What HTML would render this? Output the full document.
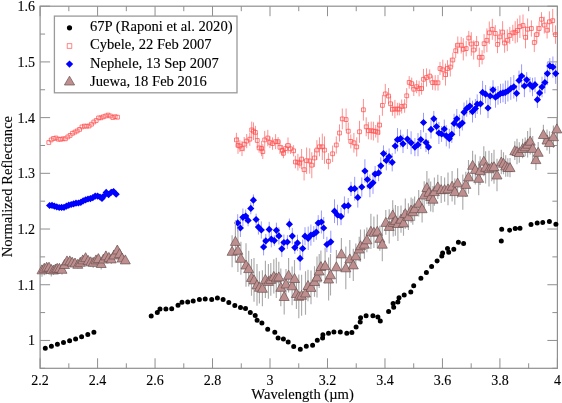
<!DOCTYPE html>
<html><head><meta charset="utf-8"><style>
html,body{margin:0;padding:0;background:#fff;width:562px;height:403px;overflow:hidden}
svg{display:block;will-change:transform}
</style></head><body>
<svg width="562" height="403" viewBox="0 0 562 403">
<rect x="40.1" y="6.2" width="517.3" height="362.1" fill="none" stroke="#8f8f8f" stroke-width="1.2"/><path d="M40.1 368.3v-10M40.1 6.2v10M68.84 368.3v-5M68.84 6.2v5M97.58 368.3v-10M97.58 6.2v10M126.32 368.3v-5M126.32 6.2v5M155.06 368.3v-10M155.06 6.2v10M183.79 368.3v-5M183.79 6.2v5M212.53 368.3v-10M212.53 6.2v10M241.27 368.3v-5M241.27 6.2v5M270.01 368.3v-10M270.01 6.2v10M298.75 368.3v-5M298.75 6.2v5M327.49 368.3v-10M327.49 6.2v10M356.23 368.3v-5M356.23 6.2v5M384.97 368.3v-10M384.97 6.2v10M413.71 368.3v-5M413.71 6.2v5M442.44 368.3v-10M442.44 6.2v10M471.18 368.3v-5M471.18 6.2v5M499.92 368.3v-10M499.92 6.2v10M528.66 368.3v-5M528.66 6.2v5M557.4 368.3v-10M557.4 6.2v10M40.1 368.3h5M557.4 368.3h-5M40.1 340.45h10M557.4 340.45h-10M40.1 312.59h5M557.4 312.59h-5M40.1 284.74h10M557.4 284.74h-10M40.1 256.88h5M557.4 256.88h-5M40.1 229.03h10M557.4 229.03h-10M40.1 201.18h5M557.4 201.18h-5M40.1 173.32h10M557.4 173.32h-10M40.1 145.47h5M557.4 145.47h-5M40.1 117.62h10M557.4 117.62h-10M40.1 89.76h5M557.4 89.76h-5M40.1 61.91h10M557.4 61.91h-10M40.1 34.05h5M557.4 34.05h-5M40.1 6.2h10M557.4 6.2h-10" stroke="#8f8f8f" stroke-width="1" fill="none"/><g font-family="Liberation Serif" font-size="14" fill="#000" stroke="#000" stroke-width="0.12"><text x="40.1" y="384.5" text-anchor="middle">2.2</text><text x="97.6" y="384.5" text-anchor="middle">2.4</text><text x="155.1" y="384.5" text-anchor="middle">2.6</text><text x="212.5" y="384.5" text-anchor="middle">2.8</text><text x="270.0" y="384.5" text-anchor="middle">3</text><text x="327.5" y="384.5" text-anchor="middle">3.2</text><text x="385.0" y="384.5" text-anchor="middle">3.4</text><text x="442.4" y="384.5" text-anchor="middle">3.6</text><text x="499.9" y="384.5" text-anchor="middle">3.8</text><text x="557.4" y="384.5" text-anchor="middle">4</text><text x="35" y="345.4" text-anchor="end">1</text><text x="35" y="289.7" text-anchor="end">1.1</text><text x="35" y="234.0" text-anchor="end">1.2</text><text x="35" y="178.3" text-anchor="end">1.3</text><text x="35" y="122.6" text-anchor="end">1.4</text><text x="35" y="66.9" text-anchor="end">1.5</text><text x="35" y="11.2" text-anchor="end">1.6</text><text x="302.6" y="399" text-anchor="middle" font-size="14.6">Wavelength (µm)</text><text transform="translate(12,186.6) rotate(-90)" text-anchor="middle" font-size="14.6">Normalized Reflectance</text></g><path d="M42.8 348.3a2.5 2.5 0 1 0 5 0a2.5 2.5 0 1 0 -5 0M48.9 346.2a2.5 2.5 0 1 0 5 0a2.5 2.5 0 1 0 -5 0M54.9 344.3a2.5 2.5 0 1 0 5 0a2.5 2.5 0 1 0 -5 0M61 342.4a2.5 2.5 0 1 0 5 0a2.5 2.5 0 1 0 -5 0M67.1 340.8a2.5 2.5 0 1 0 5 0a2.5 2.5 0 1 0 -5 0M73.1 339a2.5 2.5 0 1 0 5 0a2.5 2.5 0 1 0 -5 0M79.1 336.8a2.5 2.5 0 1 0 5 0a2.5 2.5 0 1 0 -5 0M85.3 334.4a2.5 2.5 0 1 0 5 0a2.5 2.5 0 1 0 -5 0M91.4 332.3a2.5 2.5 0 1 0 5 0a2.5 2.5 0 1 0 -5 0M148.7 315.9a2.5 2.5 0 1 0 5 0a2.5 2.5 0 1 0 -5 0M154.8 312.5a2.5 2.5 0 1 0 5 0a2.5 2.5 0 1 0 -5 0M157.5 309a2.5 2.5 0 1 0 5 0a2.5 2.5 0 1 0 -5 0M163.4 309a2.5 2.5 0 1 0 5 0a2.5 2.5 0 1 0 -5 0M169.2 308.7a2.5 2.5 0 1 0 5 0a2.5 2.5 0 1 0 -5 0M175.5 305.3a2.5 2.5 0 1 0 5 0a2.5 2.5 0 1 0 -5 0M179.5 302.3a2.5 2.5 0 1 0 5 0a2.5 2.5 0 1 0 -5 0M185.2 302.1a2.5 2.5 0 1 0 5 0a2.5 2.5 0 1 0 -5 0M190.7 301a2.5 2.5 0 1 0 5 0a2.5 2.5 0 1 0 -5 0M196.9 299.4a2.5 2.5 0 1 0 5 0a2.5 2.5 0 1 0 -5 0M202.7 299.1a2.5 2.5 0 1 0 5 0a2.5 2.5 0 1 0 -5 0M209.2 299.4a2.5 2.5 0 1 0 5 0a2.5 2.5 0 1 0 -5 0M214.9 298.1a2.5 2.5 0 1 0 5 0a2.5 2.5 0 1 0 -5 0M220.6 299.4a2.5 2.5 0 1 0 5 0a2.5 2.5 0 1 0 -5 0M226.3 302.4a2.5 2.5 0 1 0 5 0a2.5 2.5 0 1 0 -5 0M232.3 305.5a2.5 2.5 0 1 0 5 0a2.5 2.5 0 1 0 -5 0M238 307.4a2.5 2.5 0 1 0 5 0a2.5 2.5 0 1 0 -5 0M243 308.5a2.5 2.5 0 1 0 5 0a2.5 2.5 0 1 0 -5 0M247.8 312.6a2.5 2.5 0 1 0 5 0a2.5 2.5 0 1 0 -5 0M252.7 315.5a2.5 2.5 0 1 0 5 0a2.5 2.5 0 1 0 -5 0M254.6 320.3a2.5 2.5 0 1 0 5 0a2.5 2.5 0 1 0 -5 0M259.4 323.1a2.5 2.5 0 1 0 5 0a2.5 2.5 0 1 0 -5 0M265.2 329.2a2.5 2.5 0 1 0 5 0a2.5 2.5 0 1 0 -5 0M272.3 332.3a2.5 2.5 0 1 0 5 0a2.5 2.5 0 1 0 -5 0M275.6 337.9a2.5 2.5 0 1 0 5 0a2.5 2.5 0 1 0 -5 0M280.9 338.9a2.5 2.5 0 1 0 5 0a2.5 2.5 0 1 0 -5 0M285.7 341.9a2.5 2.5 0 1 0 5 0a2.5 2.5 0 1 0 -5 0M291.2 346.5a2.5 2.5 0 1 0 5 0a2.5 2.5 0 1 0 -5 0M297.8 349.2a2.5 2.5 0 1 0 5 0a2.5 2.5 0 1 0 -5 0M303.8 346.2a2.5 2.5 0 1 0 5 0a2.5 2.5 0 1 0 -5 0M310.1 345.3a2.5 2.5 0 1 0 5 0a2.5 2.5 0 1 0 -5 0M314.8 340.3a2.5 2.5 0 1 0 5 0a2.5 2.5 0 1 0 -5 0M320.1 338.1a2.5 2.5 0 1 0 5 0a2.5 2.5 0 1 0 -5 0M320.4 334.7a2.5 2.5 0 1 0 5 0a2.5 2.5 0 1 0 -5 0M326 333.2a2.5 2.5 0 1 0 5 0a2.5 2.5 0 1 0 -5 0M331.4 331.9a2.5 2.5 0 1 0 5 0a2.5 2.5 0 1 0 -5 0M337.8 331.9a2.5 2.5 0 1 0 5 0a2.5 2.5 0 1 0 -5 0M344.3 333.2a2.5 2.5 0 1 0 5 0a2.5 2.5 0 1 0 -5 0M349.4 332.4a2.5 2.5 0 1 0 5 0a2.5 2.5 0 1 0 -5 0M353.6 327.1a2.5 2.5 0 1 0 5 0a2.5 2.5 0 1 0 -5 0M357.7 321.9a2.5 2.5 0 1 0 5 0a2.5 2.5 0 1 0 -5 0M358.1 317.7a2.5 2.5 0 1 0 5 0a2.5 2.5 0 1 0 -5 0M363.6 315.8a2.5 2.5 0 1 0 5 0a2.5 2.5 0 1 0 -5 0M370.4 315.8a2.5 2.5 0 1 0 5 0a2.5 2.5 0 1 0 -5 0M375.4 317.1a2.5 2.5 0 1 0 5 0a2.5 2.5 0 1 0 -5 0M377.8 321.1a2.5 2.5 0 1 0 5 0a2.5 2.5 0 1 0 -5 0M386.1 311.4a2.5 2.5 0 1 0 5 0a2.5 2.5 0 1 0 -5 0M391.2 307.3a2.5 2.5 0 1 0 5 0a2.5 2.5 0 1 0 -5 0M390.6 303.5a2.5 2.5 0 1 0 5 0a2.5 2.5 0 1 0 -5 0M395.4 302a2.5 2.5 0 1 0 5 0a2.5 2.5 0 1 0 -5 0M396.5 297.8a2.5 2.5 0 1 0 5 0a2.5 2.5 0 1 0 -5 0M401.7 295.1a2.5 2.5 0 1 0 5 0a2.5 2.5 0 1 0 -5 0M408.3 291.9a2.5 2.5 0 1 0 5 0a2.5 2.5 0 1 0 -5 0M411.2 285.8a2.5 2.5 0 1 0 5 0a2.5 2.5 0 1 0 -5 0M418.4 278.2a2.5 2.5 0 1 0 5 0a2.5 2.5 0 1 0 -5 0M423.9 272.5a2.5 2.5 0 1 0 5 0a2.5 2.5 0 1 0 -5 0M429.1 266.6a2.5 2.5 0 1 0 5 0a2.5 2.5 0 1 0 -5 0M434.6 260.9a2.5 2.5 0 1 0 5 0a2.5 2.5 0 1 0 -5 0M439.3 256.1a2.5 2.5 0 1 0 5 0a2.5 2.5 0 1 0 -5 0M440.1 252.9a2.5 2.5 0 1 0 5 0a2.5 2.5 0 1 0 -5 0M445 248.5a2.5 2.5 0 1 0 5 0a2.5 2.5 0 1 0 -5 0M446.2 252.3a2.5 2.5 0 1 0 5 0a2.5 2.5 0 1 0 -5 0M451.3 249.3a2.5 2.5 0 1 0 5 0a2.5 2.5 0 1 0 -5 0M455.9 242.2a2.5 2.5 0 1 0 5 0a2.5 2.5 0 1 0 -5 0M461.1 243.4a2.5 2.5 0 1 0 5 0a2.5 2.5 0 1 0 -5 0M498.8 240.9a2.5 2.5 0 1 0 5 0a2.5 2.5 0 1 0 -5 0M499.2 229.3a2.5 2.5 0 1 0 5 0a2.5 2.5 0 1 0 -5 0M507.1 230.2a2.5 2.5 0 1 0 5 0a2.5 2.5 0 1 0 -5 0M512.7 228.5a2.5 2.5 0 1 0 5 0a2.5 2.5 0 1 0 -5 0M517.5 228.2a2.5 2.5 0 1 0 5 0a2.5 2.5 0 1 0 -5 0M528.5 224.4a2.5 2.5 0 1 0 5 0a2.5 2.5 0 1 0 -5 0M534.7 222.9a2.5 2.5 0 1 0 5 0a2.5 2.5 0 1 0 -5 0M540.3 222.4a2.5 2.5 0 1 0 5 0a2.5 2.5 0 1 0 -5 0M546.9 221.4a2.5 2.5 0 1 0 5 0a2.5 2.5 0 1 0 -5 0M553.4 224.2a2.5 2.5 0 1 0 5 0a2.5 2.5 0 1 0 -5 0" fill="#000"/>
<path d="M236.4 132.8V147M238 137V153.8M239.9 140.2V152M242 140.9V156.1M244.2 137V151.4M246.7 134V148.2M249.8 132.6V145.8M251.7 121.6V138.2M253.5 122.4V140M255.4 125.8V139M257.3 133V148M259.1 143.1V152.7M261.6 140.8V156.2M262.8 144.2V159M264.7 130.9V148.9M267.8 129.8V146.2M269.9 136.5V148.1M272.5 137.4V149.8M275.6 134.2V149.2M278.1 137.1V146.3M279.9 140.7V153.9M282.4 145.1V155.7M283.4 148.3V158.3M285.5 143.8V153.4M288 137.5V153.5M290.5 143.7V153.9M293.6 145.2V156.4M295.4 155.7V168.3M297.9 153.8V170.6M299.8 158.3V168.1M301.6 149V169.2M304.1 158.9V180.5M306.6 147.5V173.9M309.7 148.3V173.7M311.8 152.2V178.2M314.5 149.1V166.9M316.9 140.1V159.9M319.5 137.3V156.3M322.3 133.6V160M324.5 136.4V163.8M328.4 153.2V169.4M332.6 145.6V162M336.3 136.4V153.6M339.5 124.4V141.6M342.3 108.5V129.3M346.1 108.5V130.7M348.3 122.4V140M350.8 134.4V148.4M353.9 132.9V152.7M356.7 137.3V156.5M359.5 120.8V142.8M363.4 99V120.6M366.2 117.3V136.3M368.4 122.1V139.3M371.2 121.6V139.8M373.4 121.7V140.5M375.7 125V137.6M377.9 121.7V142.7M379.6 115.2V135M382.4 95V115.8M385.3 83.9V103.9M388.5 88V104M390.6 95.8V111.8M392.4 102.8V115.8M394.9 99.9V118.3M397.4 102.8V115.4M399.3 102.8V115.4M401.7 99.5V113.5M404.6 99.2V112.8M406.7 88.1V103.5M409.2 76.1V88.7M411.7 77.6V89.6M413.8 82.4V96M416.6 80.2V93.2M419.1 80.8V96.4M421.6 82.5V94.7M423.5 68.9V89.7M426.5 68.4V86.6M429.7 69.4V82.8M432.6 75.3V89.9M435.2 75.1V90.5M438 75V90.6M440 61.9V75.1M442.8 59.6V80M445.5 63.6V85.6M447.5 60.2V76.8M450.3 57.7V76.5M452.8 52.6V67.4M455.7 43.2V58.2M457.8 36.5V53.9M461.2 36.9V53.5M463.3 38.2V60.4M466.2 40.8V56.4M468.8 30.9V45.1M471.3 32.2V55.8M473.7 40.4V59.6M476.6 36V51.4M479.3 47.6V67M482.1 50.2V64.4M484.1 34.1V53.3M486.9 28.4V52.2M489.3 21.5V44.1M492.3 18.8V39.8M495.3 25.1V41.7M497.5 35.6V53.2M499.8 29.1V44.7M502.6 21.2V43M504.6 33.3V52.7M507.3 29.4V51.2M509.8 26.9V44.1M512.8 24.8V41M515.2 21.2V43.4M517.4 18.6V42.4M519.9 15.4V38M523 14.5V36.5M525.5 26.2V48.4M527.6 18.5V39.9M531.4 20.4V36.6M534.3 32.9V52.1M536.8 25.8V43.4M539.1 21.4V35.6M541.5 12.2V26.4M544.3 16.7V33.5M547.1 21.9V38.5M549.4 11.3V32.3M552.7 8.9V32.5M555.5 25.4V43.8" stroke="#ff6060" stroke-width="0.7" fill="none"/>
<path d="M46.9 140.6h3.8v3.8h-3.8zM49.3 138h3.8v3.8h-3.8zM51.6 136.6h3.8v3.8h-3.8zM54 136.1h3.8v3.8h-3.8zM56.4 137.3h3.8v3.8h-3.8zM58.7 137.4h3.8v3.8h-3.8zM61.1 136.9h3.8v3.8h-3.8zM63.5 136.9h3.8v3.8h-3.8zM65.9 135h3.8v3.8h-3.8zM68.2 133.5h3.8v3.8h-3.8zM70.6 131.4h3.8v3.8h-3.8zM73 130.2h3.8v3.8h-3.8zM75.3 129h3.8v3.8h-3.8zM77.7 127.5h3.8v3.8h-3.8zM80.1 125h3.8v3.8h-3.8zM82.5 124.2h3.8v3.8h-3.8zM84.8 124.3h3.8v3.8h-3.8zM87.2 124.1h3.8v3.8h-3.8zM89.6 122.3h3.8v3.8h-3.8zM91.9 120.1h3.8v3.8h-3.8zM94.3 118.6h3.8v3.8h-3.8zM96.7 116h3.8v3.8h-3.8zM99 115.9h3.8v3.8h-3.8zM101.4 114.9h3.8v3.8h-3.8zM103.8 114.1h3.8v3.8h-3.8zM106.2 113.2h3.8v3.8h-3.8zM108.5 114.1h3.8v3.8h-3.8zM110.9 115.6h3.8v3.8h-3.8zM113.3 114.8h3.8v3.8h-3.8zM115.6 115.3h3.8v3.8h-3.8zM234.5 138h3.8v3.8h-3.8zM236.1 143.5h3.8v3.8h-3.8zM238 144.2h3.8v3.8h-3.8zM240.1 146.6h3.8v3.8h-3.8zM242.3 142.3h3.8v3.8h-3.8zM244.8 139.2h3.8v3.8h-3.8zM247.9 137.3h3.8v3.8h-3.8zM249.8 128h3.8v3.8h-3.8zM251.6 129.3h3.8v3.8h-3.8zM253.5 130.5h3.8v3.8h-3.8zM255.4 138.6h3.8v3.8h-3.8zM257.2 146h3.8v3.8h-3.8zM259.7 146.6h3.8v3.8h-3.8zM260.9 149.7h3.8v3.8h-3.8zM262.8 138h3.8v3.8h-3.8zM265.9 136.1h3.8v3.8h-3.8zM268 140.4h3.8v3.8h-3.8zM270.6 141.7h3.8v3.8h-3.8zM273.7 139.8h3.8v3.8h-3.8zM276.2 139.8h3.8v3.8h-3.8zM278 145.4h3.8v3.8h-3.8zM280.5 148.5h3.8v3.8h-3.8zM281.5 151.4h3.8v3.8h-3.8zM283.6 146.7h3.8v3.8h-3.8zM286.1 143.6h3.8v3.8h-3.8zM288.6 146.9h3.8v3.8h-3.8zM291.7 148.9h3.8v3.8h-3.8zM293.5 160.1h3.8v3.8h-3.8zM296 160.3h3.8v3.8h-3.8zM297.9 161.3h3.8v3.8h-3.8zM299.7 157.2h3.8v3.8h-3.8zM302.2 167.8h3.8v3.8h-3.8zM304.7 158.8h3.8v3.8h-3.8zM307.8 159.1h3.8v3.8h-3.8zM309.9 163.3h3.8v3.8h-3.8zM312.6 156.1h3.8v3.8h-3.8zM315 148.1h3.8v3.8h-3.8zM317.6 144.9h3.8v3.8h-3.8zM320.4 144.9h3.8v3.8h-3.8zM322.6 148.2h3.8v3.8h-3.8zM326.5 159.4h3.8v3.8h-3.8zM330.7 151.9h3.8v3.8h-3.8zM334.4 143.1h3.8v3.8h-3.8zM337.6 131.1h3.8v3.8h-3.8zM340.4 117h3.8v3.8h-3.8zM344.2 117.7h3.8v3.8h-3.8zM346.4 129.3h3.8v3.8h-3.8zM348.9 139.5h3.8v3.8h-3.8zM352 140.9h3.8v3.8h-3.8zM354.8 145h3.8v3.8h-3.8zM357.6 129.9h3.8v3.8h-3.8zM361.5 107.9h3.8v3.8h-3.8zM364.3 124.9h3.8v3.8h-3.8zM366.5 128.8h3.8v3.8h-3.8zM369.3 128.8h3.8v3.8h-3.8zM371.5 129.2h3.8v3.8h-3.8zM373.8 129.4h3.8v3.8h-3.8zM376 130.3h3.8v3.8h-3.8zM377.7 123.2h3.8v3.8h-3.8zM380.5 103.5h3.8v3.8h-3.8zM383.4 92h3.8v3.8h-3.8zM386.6 94.1h3.8v3.8h-3.8zM388.7 101.9h3.8v3.8h-3.8zM390.5 107.4h3.8v3.8h-3.8zM393 107.2h3.8v3.8h-3.8zM395.5 107.2h3.8v3.8h-3.8zM397.4 107.2h3.8v3.8h-3.8zM399.8 104.6h3.8v3.8h-3.8zM402.7 104.1h3.8v3.8h-3.8zM404.8 93.9h3.8v3.8h-3.8zM407.3 80.5h3.8v3.8h-3.8zM409.8 81.7h3.8v3.8h-3.8zM411.9 87.3h3.8v3.8h-3.8zM414.7 84.8h3.8v3.8h-3.8zM417.2 86.7h3.8v3.8h-3.8zM419.7 86.7h3.8v3.8h-3.8zM421.6 77.4h3.8v3.8h-3.8zM424.6 75.6h3.8v3.8h-3.8zM427.8 74.2h3.8v3.8h-3.8zM430.7 80.7h3.8v3.8h-3.8zM433.3 80.9h3.8v3.8h-3.8zM436.1 80.9h3.8v3.8h-3.8zM438.1 66.6h3.8v3.8h-3.8zM440.9 67.9h3.8v3.8h-3.8zM443.6 72.7h3.8v3.8h-3.8zM445.6 66.6h3.8v3.8h-3.8zM448.4 65.2h3.8v3.8h-3.8zM450.9 58.1h3.8v3.8h-3.8zM453.8 48.8h3.8v3.8h-3.8zM455.9 43.3h3.8v3.8h-3.8zM459.3 43.3h3.8v3.8h-3.8zM461.4 47.4h3.8v3.8h-3.8zM464.3 46.7h3.8v3.8h-3.8zM466.9 36.1h3.8v3.8h-3.8zM469.4 42.1h3.8v3.8h-3.8zM471.8 48.1h3.8v3.8h-3.8zM474.7 41.8h3.8v3.8h-3.8zM477.4 55.4h3.8v3.8h-3.8zM480.2 55.4h3.8v3.8h-3.8zM482.2 41.8h3.8v3.8h-3.8zM485 38.4h3.8v3.8h-3.8zM487.4 30.9h3.8v3.8h-3.8zM490.4 27.4h3.8v3.8h-3.8zM493.4 31.5h3.8v3.8h-3.8zM495.6 42.5h3.8v3.8h-3.8zM497.9 35h3.8v3.8h-3.8zM500.7 30.2h3.8v3.8h-3.8zM502.7 41.1h3.8v3.8h-3.8zM505.4 38.4h3.8v3.8h-3.8zM507.9 33.6h3.8v3.8h-3.8zM510.9 31h3.8v3.8h-3.8zM513.3 30.4h3.8v3.8h-3.8zM515.5 28.6h3.8v3.8h-3.8zM518 24.8h3.8v3.8h-3.8zM521.1 23.6h3.8v3.8h-3.8zM523.6 35.4h3.8v3.8h-3.8zM525.7 27.3h3.8v3.8h-3.8zM529.5 26.6h3.8v3.8h-3.8zM532.4 40.6h3.8v3.8h-3.8zM534.9 32.7h3.8v3.8h-3.8zM537.2 26.6h3.8v3.8h-3.8zM539.6 17.4h3.8v3.8h-3.8zM542.4 23.2h3.8v3.8h-3.8zM545.2 28.3h3.8v3.8h-3.8zM547.5 19.9h3.8v3.8h-3.8zM550.8 18.8h3.8v3.8h-3.8zM553.6 32.7h3.8v3.8h-3.8z" stroke="#ff4f4f" stroke-width="0.75" fill="none"/>
<path d="M237.7 214.2V231.6M240.4 219V237M242.9 208.5V226.1M245.7 209.5V222.5M248.1 214.5V226.3M250.8 202.5V214.3M253.4 194.4V206M256.1 213.7V225.3M258.4 219.6V234.6M261.3 221.4V238.6M263.6 238.6V255.4M265.8 234V247.8M269.2 221.8V237M271.3 231V247.4M274.3 235.3V245.9M276.4 222.7V237.9M278.9 227.3V244.5M281.8 240.7V256.9M283.9 234.5V250.5M287.4 235.1V248.9M289.4 218.5V229.9M292.3 227.9V244.3M294.8 241.3V253.9M297.5 234.7V251.1M300.1 246.5V270.3M302.7 239.5V257.5M305 227.2V245.2M308.2 226.6V250M310.9 224.5V245.7M313.8 226.1V241.9M316.3 224.6V239.8M318.2 215.2V230.8M321.4 210.5V233.5M323.7 217V239M326.9 236.8V252.2M330.8 230.7V252.9M334.5 199.3V223.1M337.5 204.7V225.3M341 207.6V225.2M344.4 196.4V215.8M348.2 198V213.4M351 181.8V196M354.7 176.8V200.6M357.8 187.2V207.6M361.8 177.4V196.6M364.9 159.3V182.7M367.4 170.3V188.7M369.9 174.5V197.3M373 171.7V193.9M375.1 166V182.2M378.6 164.6V181.2M380.8 157.3V174.3M383.5 145.4V161.8M386.3 150.6V170.4M389.1 148.4V165M392.2 153.2V171.4M395.2 138.3V153.7M397.5 128.1V151.3M400.6 129.7V147.3M403 134.5V153.1M407.4 129.2V149M411.1 131.3V154.3M414.9 138V156.2M418 133.1V156.3M420.8 130V149M423.5 112.8V132.2M426 132.9V152.1M428.5 140V154.2M431 120.2V138.6M433.8 110.9V126.7M436.5 119.5V133.5M438.9 122V144M441.6 126.1V141.9M444.3 119.6V138.4M446.3 125.2V146.4M449.3 128.9V148.5M451.8 125.7V142.9M454.1 113.8V133M456.8 109V128.6M459.6 114.4V136.2M462.3 115.5V130.5M464 102.5V122.1M466.7 100.3V116.7M469.8 97.7V114.5M472.5 100.7V122.5M475.4 99V118M477.2 94.4V114M480.5 93V114.6M482.6 80.8V104M485.6 85V103.4M488 97.9V118.1M490.2 86.5V105.5M493 80.2V99.4M495.5 86.7V107.7M498 86.1V104.7M500.5 83.8V103.2M503 83.5V102.3M505.4 80.6V104M507.9 80.5V101.5M510.8 77.1V99.9M513.8 75.1V98.5M516.6 85V101.6M519 70.6V90.2M521.6 64.3V87.7M524.4 74.8V97.2M526.7 72.1V87.5M530 77.1V92.3M532.5 77.8V96.2M535 77.3V92.1M537.4 91.5V107.9M539.6 85.5V100.3M542 76.7V97.3M544.9 71.6V93.4M547.4 62.1V85.1M549.8 58.1V73.7M552.9 56.5V77.7M555.7 63.3V83.9" stroke="#9a9aff" stroke-width="1" fill="none"/>
<path d="M49.6 201.9l3.6 3.6l-3.6 3.6l-3.6 -3.6zM52 201.7l3.6 3.6l-3.6 3.6l-3.6 -3.6zM54.4 202.6l3.6 3.6l-3.6 3.6l-3.6 -3.6zM56.8 203.3l3.6 3.6l-3.6 3.6l-3.6 -3.6zM59.2 203.9l3.6 3.6l-3.6 3.6l-3.6 -3.6zM61.6 203.8l3.6 3.6l-3.6 3.6l-3.6 -3.6zM64 203.7l3.6 3.6l-3.6 3.6l-3.6 -3.6zM66.4 202.6l3.6 3.6l-3.6 3.6l-3.6 -3.6zM68.8 201.6l3.6 3.6l-3.6 3.6l-3.6 -3.6zM71.2 200.9l3.6 3.6l-3.6 3.6l-3.6 -3.6zM73.6 200.2l3.6 3.6l-3.6 3.6l-3.6 -3.6zM76 199.6l3.6 3.6l-3.6 3.6l-3.6 -3.6zM78.4 199.4l3.6 3.6l-3.6 3.6l-3.6 -3.6zM80.8 198.7l3.6 3.6l-3.6 3.6l-3.6 -3.6zM83.2 197.2l3.6 3.6l-3.6 3.6l-3.6 -3.6zM85.6 196.2l3.6 3.6l-3.6 3.6l-3.6 -3.6zM88 195.4l3.6 3.6l-3.6 3.6l-3.6 -3.6zM90.4 195l3.6 3.6l-3.6 3.6l-3.6 -3.6zM92.8 194.1l3.6 3.6l-3.6 3.6l-3.6 -3.6zM95.2 192.5l3.6 3.6l-3.6 3.6l-3.6 -3.6zM97.6 192.5l3.6 3.6l-3.6 3.6l-3.6 -3.6zM100 193.4l3.6 3.6l-3.6 3.6l-3.6 -3.6zM102 194.8l3.6 3.6l-3.6 3.6l-3.6 -3.6zM104 192.2l3.6 3.6l-3.6 3.6l-3.6 -3.6zM106.2 188.8l3.6 3.6l-3.6 3.6l-3.6 -3.6zM108.6 191l3.6 3.6l-3.6 3.6l-3.6 -3.6zM111.2 188.7l3.6 3.6l-3.6 3.6l-3.6 -3.6zM113.6 187.9l3.6 3.6l-3.6 3.6l-3.6 -3.6zM116.2 190.6l3.6 3.6l-3.6 3.6l-3.6 -3.6zM237.7 219.3l3.6 3.6l-3.6 3.6l-3.6 -3.6zM240.4 224.4l3.6 3.6l-3.6 3.6l-3.6 -3.6zM242.9 213.7l3.6 3.6l-3.6 3.6l-3.6 -3.6zM245.7 212.4l3.6 3.6l-3.6 3.6l-3.6 -3.6zM248.1 216.8l3.6 3.6l-3.6 3.6l-3.6 -3.6zM250.8 204.8l3.6 3.6l-3.6 3.6l-3.6 -3.6zM253.4 196.6l3.6 3.6l-3.6 3.6l-3.6 -3.6zM256.1 215.9l3.6 3.6l-3.6 3.6l-3.6 -3.6zM258.4 223.5l3.6 3.6l-3.6 3.6l-3.6 -3.6zM261.3 226.4l3.6 3.6l-3.6 3.6l-3.6 -3.6zM263.6 243.4l3.6 3.6l-3.6 3.6l-3.6 -3.6zM265.8 237.3l3.6 3.6l-3.6 3.6l-3.6 -3.6zM269.2 225.8l3.6 3.6l-3.6 3.6l-3.6 -3.6zM271.3 235.6l3.6 3.6l-3.6 3.6l-3.6 -3.6zM274.3 237l3.6 3.6l-3.6 3.6l-3.6 -3.6zM276.4 226.7l3.6 3.6l-3.6 3.6l-3.6 -3.6zM278.9 232.3l3.6 3.6l-3.6 3.6l-3.6 -3.6zM281.8 245.2l3.6 3.6l-3.6 3.6l-3.6 -3.6zM283.9 238.9l3.6 3.6l-3.6 3.6l-3.6 -3.6zM287.4 238.4l3.6 3.6l-3.6 3.6l-3.6 -3.6zM289.4 220.6l3.6 3.6l-3.6 3.6l-3.6 -3.6zM292.3 232.5l3.6 3.6l-3.6 3.6l-3.6 -3.6zM294.8 244l3.6 3.6l-3.6 3.6l-3.6 -3.6zM297.5 239.3l3.6 3.6l-3.6 3.6l-3.6 -3.6zM300.1 254.8l3.6 3.6l-3.6 3.6l-3.6 -3.6zM302.7 244.9l3.6 3.6l-3.6 3.6l-3.6 -3.6zM305 232.6l3.6 3.6l-3.6 3.6l-3.6 -3.6zM308.2 234.7l3.6 3.6l-3.6 3.6l-3.6 -3.6zM310.9 231.5l3.6 3.6l-3.6 3.6l-3.6 -3.6zM313.8 230.4l3.6 3.6l-3.6 3.6l-3.6 -3.6zM316.3 228.6l3.6 3.6l-3.6 3.6l-3.6 -3.6zM318.2 219.4l3.6 3.6l-3.6 3.6l-3.6 -3.6zM321.4 218.4l3.6 3.6l-3.6 3.6l-3.6 -3.6zM323.7 224.4l3.6 3.6l-3.6 3.6l-3.6 -3.6zM326.9 240.9l3.6 3.6l-3.6 3.6l-3.6 -3.6zM330.8 238.2l3.6 3.6l-3.6 3.6l-3.6 -3.6zM334.5 207.6l3.6 3.6l-3.6 3.6l-3.6 -3.6zM337.5 211.4l3.6 3.6l-3.6 3.6l-3.6 -3.6zM341 212.8l3.6 3.6l-3.6 3.6l-3.6 -3.6zM344.4 202.5l3.6 3.6l-3.6 3.6l-3.6 -3.6zM348.2 202.1l3.6 3.6l-3.6 3.6l-3.6 -3.6zM351 185.3l3.6 3.6l-3.6 3.6l-3.6 -3.6zM354.7 185.1l3.6 3.6l-3.6 3.6l-3.6 -3.6zM357.8 193.8l3.6 3.6l-3.6 3.6l-3.6 -3.6zM361.8 183.4l3.6 3.6l-3.6 3.6l-3.6 -3.6zM364.9 167.4l3.6 3.6l-3.6 3.6l-3.6 -3.6zM367.4 175.9l3.6 3.6l-3.6 3.6l-3.6 -3.6zM369.9 182.3l3.6 3.6l-3.6 3.6l-3.6 -3.6zM373 179.2l3.6 3.6l-3.6 3.6l-3.6 -3.6zM375.1 170.5l3.6 3.6l-3.6 3.6l-3.6 -3.6zM378.6 169.3l3.6 3.6l-3.6 3.6l-3.6 -3.6zM380.8 162.2l3.6 3.6l-3.6 3.6l-3.6 -3.6zM383.5 150l3.6 3.6l-3.6 3.6l-3.6 -3.6zM386.3 156.9l3.6 3.6l-3.6 3.6l-3.6 -3.6zM389.1 153.1l3.6 3.6l-3.6 3.6l-3.6 -3.6zM392.2 158.7l3.6 3.6l-3.6 3.6l-3.6 -3.6zM395.2 142.4l3.6 3.6l-3.6 3.6l-3.6 -3.6zM397.5 136.1l3.6 3.6l-3.6 3.6l-3.6 -3.6zM400.6 134.9l3.6 3.6l-3.6 3.6l-3.6 -3.6zM403 140.2l3.6 3.6l-3.6 3.6l-3.6 -3.6zM407.4 135.5l3.6 3.6l-3.6 3.6l-3.6 -3.6zM411.1 139.2l3.6 3.6l-3.6 3.6l-3.6 -3.6zM414.9 143.5l3.6 3.6l-3.6 3.6l-3.6 -3.6zM418 141.1l3.6 3.6l-3.6 3.6l-3.6 -3.6zM420.8 135.9l3.6 3.6l-3.6 3.6l-3.6 -3.6zM423.5 118.9l3.6 3.6l-3.6 3.6l-3.6 -3.6zM426 138.9l3.6 3.6l-3.6 3.6l-3.6 -3.6zM428.5 143.5l3.6 3.6l-3.6 3.6l-3.6 -3.6zM431 125.8l3.6 3.6l-3.6 3.6l-3.6 -3.6zM433.8 115.2l3.6 3.6l-3.6 3.6l-3.6 -3.6zM436.5 122.9l3.6 3.6l-3.6 3.6l-3.6 -3.6zM438.9 129.4l3.6 3.6l-3.6 3.6l-3.6 -3.6zM441.6 130.4l3.6 3.6l-3.6 3.6l-3.6 -3.6zM444.3 125.4l3.6 3.6l-3.6 3.6l-3.6 -3.6zM446.3 132.2l3.6 3.6l-3.6 3.6l-3.6 -3.6zM449.3 135.1l3.6 3.6l-3.6 3.6l-3.6 -3.6zM451.8 130.7l3.6 3.6l-3.6 3.6l-3.6 -3.6zM454.1 119.8l3.6 3.6l-3.6 3.6l-3.6 -3.6zM456.8 115.2l3.6 3.6l-3.6 3.6l-3.6 -3.6zM459.6 121.7l3.6 3.6l-3.6 3.6l-3.6 -3.6zM462.3 119.4l3.6 3.6l-3.6 3.6l-3.6 -3.6zM464 108.7l3.6 3.6l-3.6 3.6l-3.6 -3.6zM466.7 104.9l3.6 3.6l-3.6 3.6l-3.6 -3.6zM469.8 102.5l3.6 3.6l-3.6 3.6l-3.6 -3.6zM472.5 108l3.6 3.6l-3.6 3.6l-3.6 -3.6zM475.4 104.9l3.6 3.6l-3.6 3.6l-3.6 -3.6zM477.2 100.6l3.6 3.6l-3.6 3.6l-3.6 -3.6zM480.5 100.2l3.6 3.6l-3.6 3.6l-3.6 -3.6zM482.6 88.8l3.6 3.6l-3.6 3.6l-3.6 -3.6zM485.6 90.6l3.6 3.6l-3.6 3.6l-3.6 -3.6zM488 104.4l3.6 3.6l-3.6 3.6l-3.6 -3.6zM490.2 92.4l3.6 3.6l-3.6 3.6l-3.6 -3.6zM493 86.2l3.6 3.6l-3.6 3.6l-3.6 -3.6zM495.5 93.6l3.6 3.6l-3.6 3.6l-3.6 -3.6zM498 91.8l3.6 3.6l-3.6 3.6l-3.6 -3.6zM500.5 89.9l3.6 3.6l-3.6 3.6l-3.6 -3.6zM503 89.3l3.6 3.6l-3.6 3.6l-3.6 -3.6zM505.4 88.7l3.6 3.6l-3.6 3.6l-3.6 -3.6zM507.9 87.4l3.6 3.6l-3.6 3.6l-3.6 -3.6zM510.8 84.9l3.6 3.6l-3.6 3.6l-3.6 -3.6zM513.8 83.2l3.6 3.6l-3.6 3.6l-3.6 -3.6zM516.6 89.7l3.6 3.6l-3.6 3.6l-3.6 -3.6zM519 76.8l3.6 3.6l-3.6 3.6l-3.6 -3.6zM521.6 72.4l3.6 3.6l-3.6 3.6l-3.6 -3.6zM524.4 82.4l3.6 3.6l-3.6 3.6l-3.6 -3.6zM526.7 76.2l3.6 3.6l-3.6 3.6l-3.6 -3.6zM530 81.1l3.6 3.6l-3.6 3.6l-3.6 -3.6zM532.5 83.4l3.6 3.6l-3.6 3.6l-3.6 -3.6zM535 81.1l3.6 3.6l-3.6 3.6l-3.6 -3.6zM537.4 96.1l3.6 3.6l-3.6 3.6l-3.6 -3.6zM539.6 89.3l3.6 3.6l-3.6 3.6l-3.6 -3.6zM542 83.4l3.6 3.6l-3.6 3.6l-3.6 -3.6zM544.9 78.9l3.6 3.6l-3.6 3.6l-3.6 -3.6zM547.4 70l3.6 3.6l-3.6 3.6l-3.6 -3.6zM549.8 62.3l3.6 3.6l-3.6 3.6l-3.6 -3.6zM552.9 63.5l3.6 3.6l-3.6 3.6l-3.6 -3.6zM555.7 70l3.6 3.6l-3.6 3.6l-3.6 -3.6z" fill="#0000ff"/>
<path d="M232.1 235.3V267.3M235.4 220.2V262.6M237.9 228.5V272.1M240.9 241.8V274.8M246 243.3V286.7M248.7 250.8V286.4M251.5 259V295.8M254 258V301.8M257 264.1V305.7M259.4 271.2V303.4M262.4 270.3V306.3M265.4 260.8V298M268.4 264V298.8M270.8 263V295.8M273.8 259.2V293.6M276.3 257.8V298M278.8 261.8V292M280.8 268.4V306.2M284.2 278.4V314.6M286 268.9V299.1M288.6 257.9V292.5M292.1 266.4V305.2M294.5 259.9V297.1M296.4 278V309M298.8 274.4V318.2M301.6 274.8V315.8M305.5 271.2V314.8M308 269.8V301.2M311 270.5V304.3M314.5 266.2V296.8M317 256.5V297.5M319.2 254.1V287.9M320.9 250.6V282.4M325.1 247.6V283.6M328.6 257.6V300.4M330.5 254.1V295.5M336.4 250V283.6M341.4 237.9V269.9M345.8 246.4V289.2M349.8 239.9V277.9M353.3 248.7V281.1M355.8 243.4V268.4M359.2 236.7V261.3M360.5 229.6V261.8M364.4 229.6V258.8M366.9 227.4V252.2M370.9 213.7V248.9M373.9 216.5V248.1M377.3 214.5V248.1M379.8 225.8V250.8M382.3 227.1V261.3M385.8 210V234.8M389.2 209.2V243.6M392.7 200.3V229.7M393.2 208.4V236.4M395.4 205.1V235.7M397.9 205.9V241.1M401 205.6V232.8M403.5 210.1V235.7M405.3 198.4V228.8M408.4 203.3V230.1M411.1 197.4V222.8M412.8 198.7V224.7M414.6 196.4V221M418.7 190.1V216.5M422.1 194.8V222.6M424.2 181.2V208.8M426.9 170.9V204.1M428.9 178.6V206M430.7 181.5V211.5M433 186.1V212.3M434.4 177.5V205.7M437.8 174.8V199M441.2 176.1V203.1M444.6 177.5V201.7M448 172.5V205.3M452.1 170.9V201.5M454.8 178.5V204.7M457.6 168.2V197.8M462.8 174.6V209.8M465.8 171.8V197M468.5 160V193.8M472.6 150.7V179.9M475.3 154.4V184.4M478.7 161.3V195.3M480.1 156.3V185.1M483.8 146.2V176.2M485.6 151.2V183.4M489 150.8V186.6M491.7 153.1V181.3M494 149.7V183.7M497 158.8V191.2M501.3 149.8V174.2M503.5 152.3V174.3M505.7 155.3V176.7M507.8 158.2V176.8M510 158V177.2M514.8 141.3V160.1M517 138.8V164.2M519.3 142.2V162.8M522.6 138.7V158.3M525.2 137.4V156.2M527.6 131V157.4M530.2 127.8V154.6M532.7 136V160.8M535.9 149.2V170M538.2 142.1V162.5M547 129.5V150.5M549.5 131.2V153.8M543.4 124.7V144.3M553.4 125.5V147.9M556.8 118.6V139.2M42 264.9V276.7M44.3 263.4V275.2M46.7 263.6V272.8M49 264.5V271.9M51.3 264.6V276.4M53.5 267.1V274.9M55.5 265.9V274.1M57.2 266.3V272.3M59.4 265.2V273.4M62 265.9V274.7M64.5 261V270M67 258.3V265.5M69.8 257.4V266.4M72.2 260.2V266.2M75 260.2V267.8M77.8 262V268.6M80.3 259.1V267.5M82.8 257.8V264M85.6 255.6V261.8M88.2 257.5V265.3M90.7 259.1V266.5M93.2 258.5V268.1M96 256.3V265.5M98.4 254.3V264.9M101.2 259.5V269.5M103.5 254.9V265.1M105.9 251.3V262.5M108.9 254.2V262.6M111.3 255.9V263.9M114 250V262M117.3 247.6V254.4M119.5 249.5V259.9M122 254.1V263.9M125.3 257.8V264" stroke="#ababab" stroke-width="1.15" fill="none"/>
<g fill="#bf8f8f" stroke="#6a5050" stroke-width="0.7" stroke-linejoin="miter"><path d="M42 264.8L47 273.8H37z"/><path d="M44.3 263.3L49.3 272.3H39.3z"/><path d="M46.7 262.2L51.7 271.2H41.7z"/><path d="M49 262.2L54 271.2H44z"/><path d="M51.3 264.5L56.3 273.5H46.3z"/><path d="M53.5 265L58.5 274H48.5z"/><path d="M55.5 264L60.5 273H50.5z"/><path d="M57.2 263.3L62.2 272.3H52.2z"/><path d="M59.4 263.3L64.4 272.3H54.4z"/><path d="M62 264.3L67 273.3H57z"/><path d="M64.5 259.5L69.5 268.5H59.5z"/><path d="M67 255.9L72 264.9H62z"/><path d="M69.8 255.9L74.8 264.9H64.8z"/><path d="M72.2 257.2L77.2 266.2H67.2z"/><path d="M75 258L80 267H70z"/><path d="M77.8 259.3L82.8 268.3H72.8z"/><path d="M80.3 257.3L85.3 266.3H75.3z"/><path d="M82.8 254.9L87.8 263.9H77.8z"/><path d="M85.6 252.7L90.6 261.7H80.6z"/><path d="M88.2 255.4L93.2 264.4H83.2z"/><path d="M90.7 256.8L95.7 265.8H85.7z"/><path d="M93.2 257.3L98.2 266.3H88.2z"/><path d="M96 254.9L101 263.9H91z"/><path d="M98.4 253.6L103.4 262.6H93.4z"/><path d="M101.2 258.5L106.2 267.5H96.2z"/><path d="M103.5 254L108.5 263H98.5z"/><path d="M105.9 250.9L110.9 259.9H100.9z"/><path d="M108.9 252.4L113.9 261.4H103.9z"/><path d="M111.3 253.9L116.3 262.9H106.3z"/><path d="M114 250L119 259H109z"/><path d="M117.3 245L122.3 254H112.3z"/><path d="M119.5 248.7L124.5 257.7H114.5z"/><path d="M122 253L127 262H117z"/><path d="M125.3 254.9L130.3 263.9H120.3z"/><path d="M232.1 246.3L237.1 255.3H227.1z"/><path d="M235.4 236.4L240.4 245.4H230.4z"/><path d="M237.9 245.3L242.9 254.3H232.9z"/><path d="M240.9 253.3L245.9 262.3H235.9z"/><path d="M246 260L251 269H241z"/><path d="M248.7 263.6L253.7 272.6H243.7z"/><path d="M251.5 272.4L256.5 281.4H246.5z"/><path d="M254 274.9L259 283.9H249z"/><path d="M257 279.9L262 288.9H252z"/><path d="M259.4 282.3L264.4 291.3H254.4z"/><path d="M262.4 283.3L267.4 292.3H257.4z"/><path d="M265.4 274.4L270.4 283.4H260.4z"/><path d="M268.4 276.4L273.4 285.4H263.4z"/><path d="M270.8 274.4L275.8 283.4H265.8z"/><path d="M273.8 271.4L278.8 280.4H268.8z"/><path d="M276.3 272.9L281.3 281.9H271.3z"/><path d="M278.8 271.9L283.8 280.9H273.8z"/><path d="M280.8 282.3L285.8 291.3H275.8z"/><path d="M284.2 291.5L289.2 300.5H279.2z"/><path d="M286 279L291 288H281z"/><path d="M288.6 270.2L293.6 279.2H283.6z"/><path d="M292.1 280.8L297.1 289.8H287.1z"/><path d="M294.5 273.5L299.5 282.5H289.5z"/><path d="M296.4 288.5L301.4 297.5H291.4z"/><path d="M298.8 291.3L303.8 300.3H293.8z"/><path d="M301.6 290.3L306.6 299.3H296.6z"/><path d="M305.5 288L310.5 297H300.5z"/><path d="M308 280.5L313 289.5H303z"/><path d="M311 282.4L316 291.4H306z"/><path d="M314.5 276.5L319.5 285.5H309.5z"/><path d="M317 272L322 281H312z"/><path d="M319.2 266L324.2 275H314.2z"/><path d="M320.9 261.5L325.9 270.5H315.9z"/><path d="M325.1 260.6L330.1 269.6H320.1z"/><path d="M328.6 274L333.6 283H323.6z"/><path d="M330.5 269.8L335.5 278.8H325.5z"/><path d="M336.4 261.8L341.4 270.8H331.4z"/><path d="M341.4 248.9L346.4 257.9H336.4z"/><path d="M345.8 262.8L350.8 271.8H340.8z"/><path d="M349.8 253.9L354.8 262.9H344.8z"/><path d="M353.3 259.9L358.3 268.9H348.3z"/><path d="M355.8 250.9L360.8 259.9H350.8z"/><path d="M359.2 244L364.2 253H354.2z"/><path d="M360.5 240.7L365.5 249.7H355.5z"/><path d="M364.4 239.2L369.4 248.2H359.4z"/><path d="M366.9 234.8L371.9 243.8H361.9z"/><path d="M370.9 226.3L375.9 235.3H365.9z"/><path d="M373.9 227.3L378.9 236.3H368.9z"/><path d="M377.3 226.3L382.3 235.3H372.3z"/><path d="M379.8 233.3L384.8 242.3H374.8z"/><path d="M382.3 239.2L387.3 248.2H377.3z"/><path d="M385.8 217.4L390.8 226.4H380.8z"/><path d="M389.2 221.4L394.2 230.4H384.2z"/><path d="M392.7 210L397.7 219H387.7z"/><path d="M393.2 217.4L398.2 226.4H388.2z"/><path d="M395.4 215.4L400.4 224.4H390.4z"/><path d="M397.9 218.5L402.9 227.5H392.9z"/><path d="M401 214.2L406 223.2H396z"/><path d="M403.5 217.9L408.5 226.9H398.5z"/><path d="M405.3 208.6L410.3 217.6H400.3z"/><path d="M408.4 211.7L413.4 220.7H403.4z"/><path d="M411.1 205.1L416.1 214.1H406.1z"/><path d="M412.8 206.7L417.8 215.7H407.8z"/><path d="M414.6 203.7L419.6 212.7H409.6z"/><path d="M418.7 198.3L423.7 207.3H413.7z"/><path d="M422.1 203.7L427.1 212.7H417.1z"/><path d="M424.2 190L429.2 199H419.2z"/><path d="M426.9 182.5L431.9 191.5H421.9z"/><path d="M428.9 187.3L433.9 196.3H423.9z"/><path d="M430.7 191.5L435.7 200.5H425.7z"/><path d="M433 194.2L438 203.2H428z"/><path d="M434.4 186.6L439.4 195.6H429.4z"/><path d="M437.8 181.9L442.8 190.9H432.8z"/><path d="M441.2 184.6L446.2 193.6H436.2z"/><path d="M444.6 184.6L449.6 193.6H439.6z"/><path d="M448 183.9L453 192.9H443z"/><path d="M452.1 181.2L457.1 190.2H447.1z"/><path d="M454.8 186.6L459.8 195.6H449.8z"/><path d="M457.6 178L462.6 187H452.6z"/><path d="M462.8 187.2L467.8 196.2H457.8z"/><path d="M465.8 179.4L470.8 188.4H460.8z"/><path d="M468.5 171.9L473.5 180.9H463.5z"/><path d="M472.6 160.3L477.6 169.3H467.6z"/><path d="M475.3 164.4L480.3 173.4H470.3z"/><path d="M478.7 173.3L483.7 182.3H473.7z"/><path d="M480.1 165.7L485.1 174.7H475.1z"/><path d="M483.8 156.2L488.8 165.2H478.8z"/><path d="M485.6 162.3L490.6 171.3H480.6z"/><path d="M489 163.7L494 172.7H484z"/><path d="M491.7 162.2L496.7 171.2H486.7z"/><path d="M494 161.7L499 170.7H489z"/><path d="M497 170L502 179H492z"/><path d="M501.3 157L506.3 166H496.3z"/><path d="M503.5 158.3L508.5 167.3H498.5z"/><path d="M505.7 161L510.7 170H500.7z"/><path d="M507.8 162.5L512.8 171.5H502.8z"/><path d="M510 162.6L515 171.6H505z"/><path d="M514.8 145.7L519.8 154.7H509.8z"/><path d="M517 146.5L522 155.5H512z"/><path d="M519.3 147.5L524.3 156.5H514.3z"/><path d="M522.6 143.5L527.6 152.5H517.6z"/><path d="M525.2 141.8L530.2 150.8H520.2z"/><path d="M527.6 139.2L532.6 148.2H522.6z"/><path d="M530.2 136.2L535.2 145.2H525.2z"/><path d="M532.7 143.4L537.7 152.4H527.7z"/><path d="M535.9 154.6L540.9 163.6H530.9z"/><path d="M538.2 147.3L543.2 156.3H533.2z"/><path d="M547 135L552 144H542z"/><path d="M549.5 137.5L554.5 146.5H544.5z"/><path d="M543.4 129.5L548.4 138.5H538.4z"/><path d="M553.4 131.7L558.4 140.7H548.4z"/><path d="M556.8 123.9L561.8 132.9H551.8z"/></g><rect x="54.4" y="16.1" width="182.6" height="76.7" fill="#fff" stroke="#9a9a9a" stroke-width="1.3"/><circle cx="69.5" cy="27.8" r="2.6" fill="#000"/><rect x="67.2" y="43.7" width="4.6" height="4.6" fill="none" stroke="#ff6a6a" stroke-width="0.8"/><path d="M69.5 60.4l3.7 3.7l-3.7 3.7l-3.7 -3.7z" fill="#0000ff"/><path d="M69.5 76.2L74.6 85H64.4z" fill="#bf8f8f" stroke="#6a5050" stroke-width="0.7"/><g font-family="Liberation Serif" font-size="14.6" fill="#000" stroke="#000" stroke-width="0.12"><text x="90" y="31.0">67P (Raponi et al. 2020)</text><text x="90" y="49.4">Cybele, 22 Feb 2007</text><text x="90" y="67.8">Nephele, 13 Sep 2007</text><text x="90" y="86.2">Juewa, 18 Feb 2016</text></g>
</svg></body></html>
